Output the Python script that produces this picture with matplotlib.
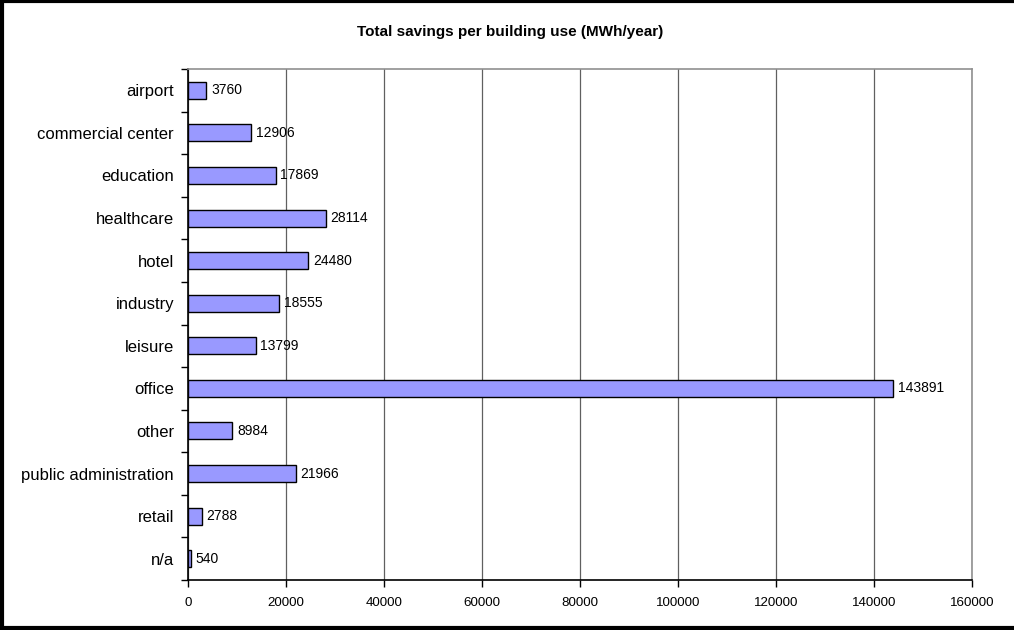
import matplotlib.pyplot as plt
from matplotlib.lines import Line2D

plt.rcParams['font.family'] = ['Liberation Sans', 'DejaVu Sans']

# Savings per building use (MWh/year)
usos = ['airport', 'commercial center', 'education', 'healthcare', 'hotel',
        'industry', 'leisure', 'office', 'other', 'public administration',
        'retail', 'n/a']
ahorros = [3760, 12906, 17869, 28114, 24480, 18555, 13799, 143891, 8984,
           21966, 2788, 540]
x_ticks = [0, 20000, 40000, 60000, 80000, 100000, 120000, 140000, 160000]

fig = plt.figure(figsize=(10.14, 6.30), dpi=100)
ax = fig.add_axes([188 / 1014, 1 - 580 / 630, (972 - 188) / 1014, (580 - 69) / 630])

pos = list(range(len(usos)))
ax.barh(pos, ahorros, height=0.4, color='#9999FF', edgecolor='black', linewidth=1.0, zorder=3)
for p, v in zip(pos, ahorros):
    ax.annotate(str(v), (v, p), xytext=(3.5, 0), textcoords='offset points',
                va='center', ha='left', fontsize=10, zorder=4)

ax.set_xlim(0, 160000)
ax.set_ylim(len(usos) - 0.5, -0.5)
ax.set_xticks(x_ticks)
ax.set_xticklabels([str(t) for t in x_ticks], fontsize=9.6)
ax.set_yticks(pos)
ax.set_yticklabels(usos, fontsize=12)
ax.tick_params(axis='y', length=0, pad=10)
# category separators drawn as minor ticks, Excel style
ax.set_yticks([p - 0.5 for p in pos] + [len(usos) - 0.5], minor=True)
ax.tick_params(axis='y', which='minor', length=5, width=1, direction='out')
ax.tick_params(axis='x', length=5, width=1, direction='out', pad=7)

ax.xaxis.grid(True, color='#606060', linewidth=0.9, zorder=0)
for s in ['left', 'bottom']:
    ax.spines[s].set_color('black')
    ax.spines[s].set_linewidth(1.2)
for s in ['top', 'right']:
    ax.spines[s].set_color('#909090')
    ax.spines[s].set_linewidth(1.2)

fig.text(510 / 1014, 1 - 32 / 630, 'Total savings per building use (MWh/year)',
         ha='center', va='center', fontsize=11, fontweight='bold')

# outer frame: left, top and bottom edges only
x0, y0, y1 = 2 / 1014, 2 / 630, 1 - 1 / 630
for xs, ys in [([x0, x0], [y0, y1]), ([x0, 1], [y1, y1]), ([x0, 1], [y0, y0])]:
    fig.add_artist(Line2D(xs, ys, transform=fig.transFigure, color='black',
                          linewidth=3, solid_capstyle='projecting'))

fig.savefig('out.png', dpi=100, facecolor='white')
